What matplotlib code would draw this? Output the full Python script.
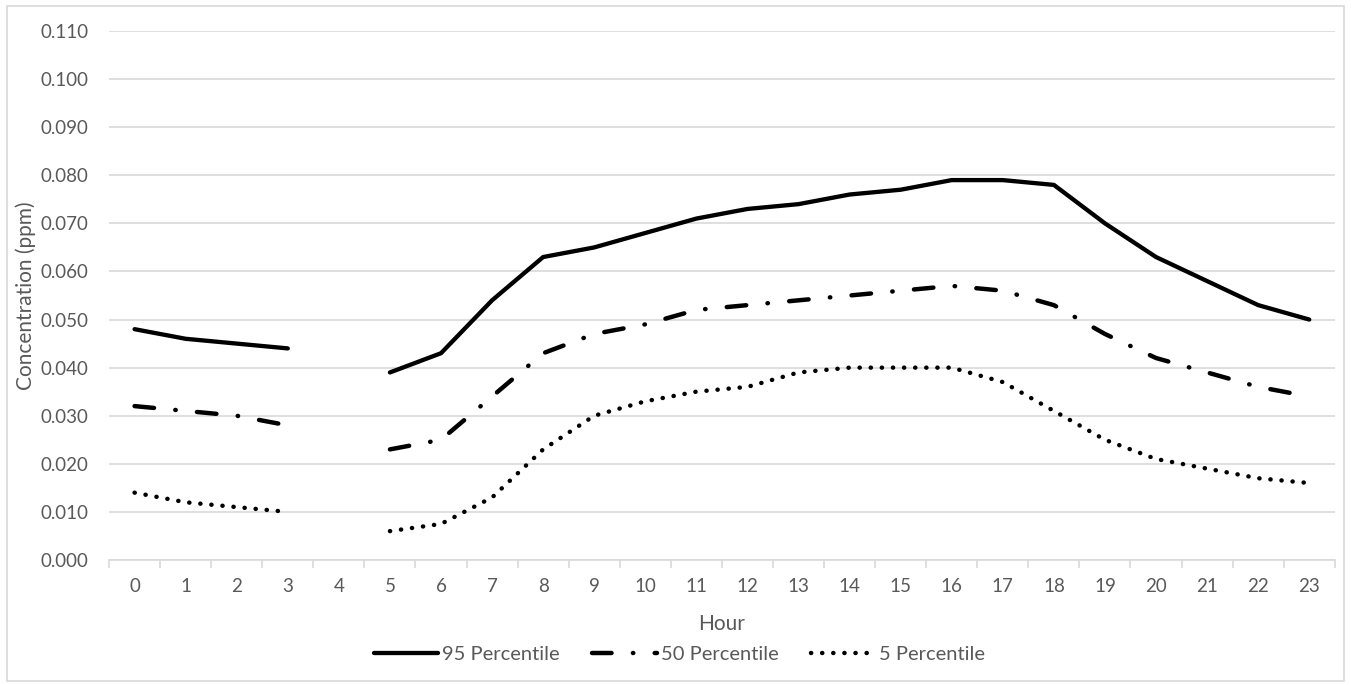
import numpy as np
import matplotlib
matplotlib.use("Agg")
import matplotlib.pyplot as plt
from matplotlib.patches import Rectangle

plt.rcParams['font.family'] = ['Lato', 'DejaVu Sans']

hours = list(range(24))
nan = np.nan
p95 = [0.048, 0.046, 0.045, 0.044, nan, 0.039, 0.043, 0.054, 0.063, 0.065, 0.068, 0.071,
       0.073, 0.074, 0.076, 0.077, 0.079, 0.079, 0.078, 0.070, 0.063, 0.058, 0.053, 0.050]
p50 = [0.032, 0.031, 0.030, 0.028, nan, 0.023, 0.025, 0.034, 0.043, 0.047, 0.049, 0.052,
       0.053, 0.054, 0.055, 0.056, 0.057, 0.056, 0.053, 0.047, 0.042, 0.039, 0.036, 0.034]
p5 = [0.014, 0.012, 0.011, 0.010, nan, 0.006, 0.0075, 0.013, 0.023, 0.030, 0.033, 0.035,
      0.036, 0.039, 0.040, 0.040, 0.040, 0.037, 0.031, 0.025, 0.021, 0.019, 0.017, 0.016]
yticks = np.arange(0, 0.1101, 0.01)

txt = '#595959'
grid = '#d9d9d9'

fig = plt.figure(figsize=(13.51, 6.85), dpi=100)
ax = fig.add_axes([0.0807, 0.1825, 0.9073, 0.7722])

# chart border
fig.patches.append(Rectangle((0.005, 0.006), 0.99, 0.985, transform=fig.transFigure,
                             fill=False, edgecolor=grid, linewidth=1.2))

ax.plot(hours, p95, color='black', lw=3.1, solid_capstyle='round', label='95 Percentile')
ax.plot(hours, p50, color='black', lw=3.2, dash_capstyle='round', dashes=(4.4, 4.8, 0.1, 4.8),
        label='50 Percentile')
ax.plot(hours, p5, color='black', lw=3.2, dash_capstyle='round', dashes=(0.05, 2.45),
        label='5 Percentile')

ax.set_xlim(-0.5, 23.5)
ax.set_ylim(0, 0.110)
ax.set_yticks(yticks)
ax.set_yticklabels([f'{v:.3f}' for v in yticks])
ax.set_xticks(hours)
ax.set_xticks(np.arange(-0.5, 24, 1), minor=True)
ax.tick_params(axis='x', which='major', length=0, pad=13, labelsize=13.5, labelcolor=txt)
ax.tick_params(axis='x', which='minor', length=6, width=1.2, color=grid, direction='out')
ax.tick_params(axis='y', length=0, pad=15, labelsize=13.5, labelcolor=txt)

ax.grid(axis='y', color=grid, lw=1.2)
ax.set_axisbelow(True)
for s in ['top', 'right', 'left']:
    ax.spines[s].set_visible(False)
ax.spines['bottom'].set_color(grid)
ax.spines['bottom'].set_linewidth(1.2)

ax.set_xlabel('Hour', fontsize=15, color=txt, labelpad=14)
ax.set_ylabel('Concentration (ppm)', fontsize=15, color=txt, labelpad=3)

leg = fig.legend(loc='center', bbox_to_anchor=(0.503, 0.044), ncol=3, frameon=False,
                 fontsize=14.5, handlelength=3.2, columnspacing=1.6, handletextpad=0.2,
                 labelcolor=txt)

fig.savefig('out.png', dpi=100)
